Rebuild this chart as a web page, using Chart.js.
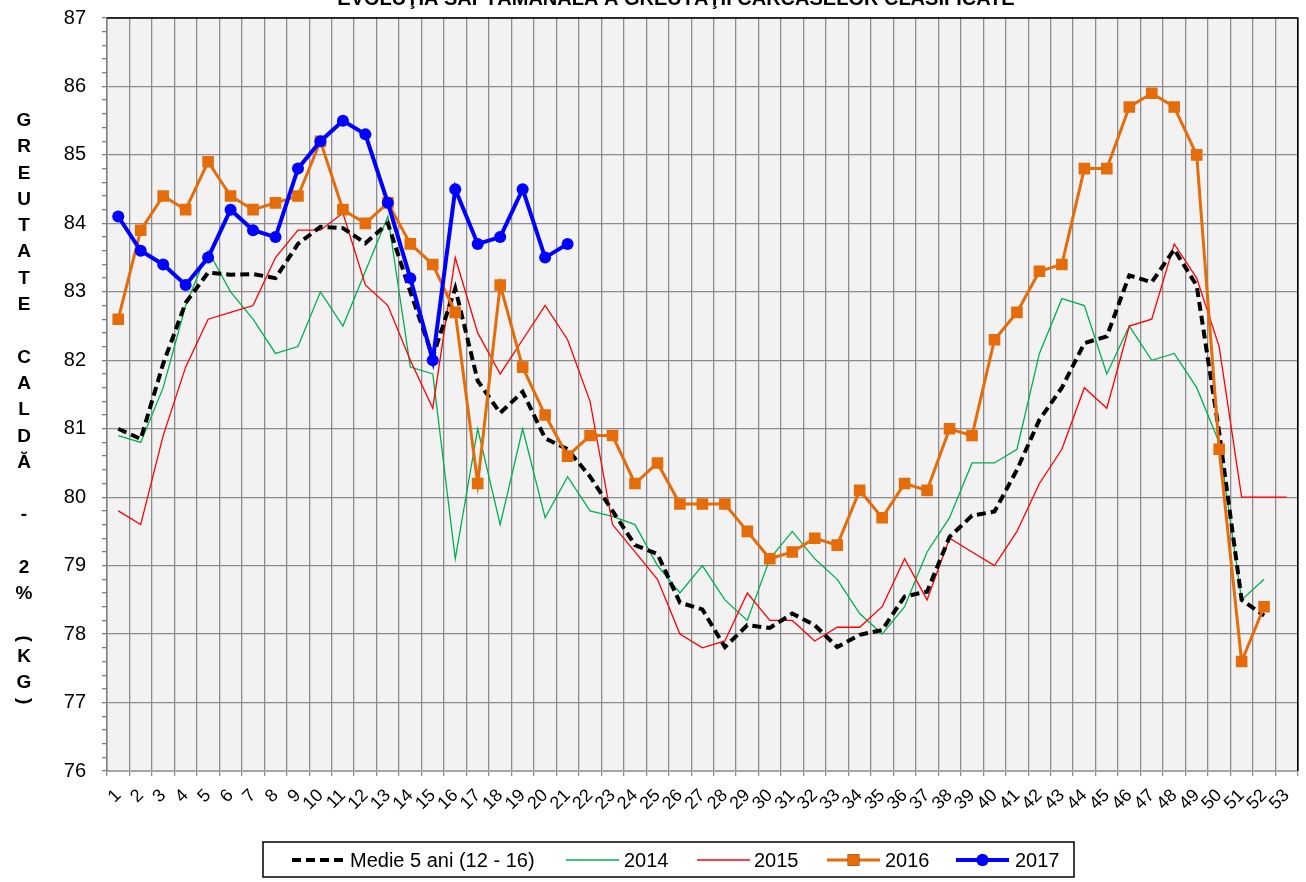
<!DOCTYPE html>
<html lang="ro">
<head>
<meta charset="utf-8">
<title>Evoluţia săptămânală a greutăţii carcaselor clasificate</title>
<script src="https://cdn.jsdelivr.net/npm/chart.js@4.4.1/dist/chart.umd.min.js"></script>
<style>
  html, body { margin: 0; padding: 0; background: #ffffff; }
  #grafica { display: block; }
</style>
</head>
<body>
<canvas id="grafica" width="1306" height="882"></canvas>
<script>
// --- DATOS ---
const semanas = ['1', '2', '3', '4', '5', '6', '7', '8', '9', '10', '11', '12', '13', '14', '15', '16', '17', '18',
    '19', '20', '21', '22', '23', '24', '25', '26', '27', '28', '29', '30', '31', '32', '33', '34', '35', '36',
    '37', '38', '39', '40', '41', '42', '43', '44', '45', '46', '47', '48', '49', '50', '51', '52', '53'];

const medie5ani = [81.0, 80.85, 81.95, 82.84, 83.28, 83.25, 83.26, 83.2, 83.7, 83.95, 83.93, 83.71, 84.0,
    83.0, 82.05, 83.05, 81.7, 81.23, 81.54, 80.86, 80.7, 80.3, 79.8, 79.3, 79.17, 78.46, 78.36, 77.81,
    78.13, 78.09, 78.3, 78.13, 77.81, 77.99, 78.06, 78.55, 78.62, 79.42, 79.73, 79.79, 80.4, 81.13, 81.6,
    82.25, 82.35, 83.24, 83.14, 83.62, 83.09, 80.95, 78.5, 78.27, null];

const an2014 = [80.9, 80.8, 81.6, 82.8, 83.6, 83.0, 82.6, 82.1, 82.2, 83.0, 82.5, 83.3, 84.1, 81.9, 81.8,
    79.1, 81.0, 79.6, 81.0, 79.7, 80.3, 79.8, 79.72, 79.6, 79.0, 78.6, 79.0, 78.5, 78.2, 79.1, 79.5, 79.1,
    78.8, 78.3, 78.0, 78.4, 79.2, 79.7, 80.5, 80.5, 80.7, 82.1, 82.9, 82.8, 81.8, 82.5, 82.0, 82.1, 81.6,
    80.8, 78.5, 78.8, null];

const an2015 = [79.8, 79.6, 80.9, 81.9, 82.6, 82.7, 82.8, 83.5, 83.9, 83.9, 84.15, 83.1, 82.8, 82.0, 81.3,
    83.5, 82.4, 81.8, 82.3, 82.8, 82.3, 81.4, 79.6, 79.2, 78.8, 78.0, 77.8, 77.9, 78.6, 78.2, 78.2, 77.9,
    78.1, 78.1, 78.4, 79.1, 78.5, 79.4, 79.2, 79.0, 79.5, 80.2, 80.7, 81.6, 81.3, 82.5, 82.6, 83.7, 83.2,
    82.2, 80.0, 80.0, 80.0];

const an2016 = [82.6, 83.9, 84.4, 84.2, 84.9, 84.4, 84.2, 84.3, 84.4, 85.2, 84.2, 84.0, 84.3, 83.7, 83.4,
    82.7, 80.2, 83.1, 81.9, 81.2, 80.6, 80.9, 80.9, 80.2, 80.5, 79.9, 79.9, 79.9, 79.5, 79.1, 79.2, 79.4,
    79.3, 80.1, 79.7, 80.2, 80.1, 81.0, 80.9, 82.3, 82.7, 83.3, 83.4, 84.8, 84.8, 85.7, 85.9, 85.7, 85.0,
    80.7, 77.6, 78.4, null];

const an2017 = [84.1, 83.6, 83.4, 83.1, 83.5, 84.2, 83.9, 83.8, 84.8, 85.2, 85.5, 85.3, 84.3, 83.2, 82.0,
    84.5, 83.7, 83.8, 84.5, 83.5, 83.7];

const tituloGrafica = 'EVOLUŢIA SĂPTĂMÂNALĂ A GREUTĂŢII CARCASELOR CLASIFICATE';
const tituloEjeY = 'GREUTATE CALDĂ - 2% (KG)';
const ejeYMin = 76;
const ejeYMax = 87;
const pasoY = 0.2;

const fuente = "'Liberation Sans', Arial, sans-serif";
const colorRejilla = '#8c8c8c';

function esEntero(v) {
    return Math.abs(v - Math.round(v)) < 0.001;
}

// --- SERIES ---
const series = [
    { label: 'Medie 5 ani (12 - 16)', data: medie5ani, borderColor: '#000000', backgroundColor: '#000000',
      borderWidth: 4, borderDash: [9, 5], pointRadius: 0, order: 2 },
    { label: '2014', data: an2014, borderColor: '#00b050', backgroundColor: '#00b050',
      borderWidth: 1.3, pointRadius: 0, order: 4 },
    { label: '2015', data: an2015, borderColor: '#ff0000', backgroundColor: '#ff0000',
      borderWidth: 1.3, pointRadius: 0, order: 3 },
    { label: '2016', data: an2016, borderColor: '#e46c0a', backgroundColor: '#e46c0a',
      borderWidth: 3, pointStyle: 'rect', pointRadius: 8.2, pointBorderWidth: 0, order: 1 },
    { label: '2017', data: an2017, borderColor: '#0000ff', backgroundColor: '#0000ff',
      borderWidth: 4, pointStyle: 'circle', pointRadius: 6, pointBorderWidth: 0, order: 0 }
];
series.forEach(s => { s.fill = false; s.tension = 0; s.pointHoverRadius = s.pointRadius; });

// --- PLUGINS DE DIBUJO ---
const fondoArea = {
    id: 'fondoArea',
    beforeDraw(chart) {
        const { ctx, chartArea: a } = chart;
        ctx.save();
        ctx.fillStyle = '#f2f2f2';
        ctx.fillRect(a.left, a.top, a.right - a.left, a.bottom - a.top);
        ctx.restore();
    },
    afterDatasetsDraw(chart) {
        // borde superior y derecho del area
        const { ctx, chartArea: a } = chart;
        ctx.save();
        ctx.strokeStyle = '#000000';
        ctx.lineWidth = 1.6;
        ctx.beginPath();
        ctx.moveTo(a.left, a.top);
        ctx.lineTo(a.right, a.top);
        ctx.lineTo(a.right, a.bottom);
        ctx.stroke();
        ctx.restore();
    }
};

const titulos = {
    id: 'titulos',
    afterDraw(chart) {
        const ctx = chart.ctx;
        ctx.save();
        ctx.fillStyle = '#000000';
        // titulo cortado arriba
        ctx.font = 'bold 20px ' + fuente;
        ctx.textAlign = 'center';
        ctx.textBaseline = 'alphabetic';
        ctx.fillText(tituloGrafica, 676, 5);

        // titulo del eje Y, letras apiladas
        ctx.font = 'bold 19px ' + fuente;
        ctx.textBaseline = 'middle';
        let y = 120.7;
        let mitadAnterior = 0;
        for (const ch of tituloEjeY) {
            const esParen = ch === '(' || ch === ')';
            const mitad = esParen ? 5 : 13.15;
            if (mitadAnterior) y += mitadAnterior + mitad;
            mitadAnterior = mitad;
            if (ch === ' ') continue;
            if (esParen) {
                ctx.save();
                ctx.translate(24, y);
                ctx.rotate(Math.PI / 2);
                ctx.fillText(ch, 0, 0);
                ctx.restore();
            } else {
                ctx.fillText(ch, 24, y);
            }
        }
        ctx.restore();
    }
};

const leyenda = {
    id: 'leyendaCaja',
    afterDraw(chart) {
        const ctx = chart.ctx;
        const inicios = [292, 566, 697, 827, 956];
        const textos = [350, 624, 754, 885, 1015];
        const yc = 860;
        ctx.save();
        ctx.fillStyle = '#ffffff';
        ctx.fillRect(263, 842, 811, 35);
        ctx.strokeStyle = '#000000';
        ctx.lineWidth = 1.5;
        ctx.strokeRect(263, 842, 811, 35);

        chart.data.datasets.forEach((ds, i) => {
            const x0 = inicios[i];
            const x1 = x0 + 53;
            ctx.save();
            ctx.strokeStyle = ds.borderColor;
            ctx.lineWidth = ds.borderWidth;
            ctx.setLineDash(ds.borderDash || []);
            ctx.beginPath();
            ctx.moveTo(x0, yc);
            ctx.lineTo(x1, yc);
            ctx.stroke();
            ctx.restore();
            if (ds.pointRadius > 0) {
                Chart.helpers.drawPoint(ctx, {
                    pointStyle: ds.pointStyle,
                    radius: ds.pointRadius,
                    borderWidth: 0
                }, (x0 + x1) / 2, yc);
                ctx.fillStyle = ds.backgroundColor;
                ctx.fill();
            }
            ctx.fillStyle = '#000000';
            ctx.font = '20px ' + fuente;
            ctx.textAlign = 'left';
            ctx.textBaseline = 'middle';
            ctx.fillText(ds.label, textos[i], yc + 1);
        });
        ctx.restore();
    }
};

// --- GRAFICA ---
Chart.defaults.font.family = fuente;

const grafica = new Chart(document.getElementById('grafica').getContext('2d'), {
    type: 'line',
    data: { labels: semanas, datasets: series },
    options: {
        responsive: false,
        animation: false,
        layout: { padding: { top: 18, right: 6, bottom: 0, left: 0 } },
        plugins: {
            legend: { display: false },
            title: { display: false },
            tooltip: { enabled: false }
        },
        scales: {
            x: {
                offset: true,
                grid: { offset: true, color: colorRejilla, lineWidth: 1.3, tickLength: 5, tickColor: colorRejilla },
                border: { color: '#a6a6a6', width: 2 },
                ticks: {
                    autoSkip: false, minRotation: 45, maxRotation: 45, padding: 9,
                    color: '#000000', font: { size: 18 }
                },
                afterFit(scale) {
                    scale.height = 111;
                    scale.paddingLeft = 0;
                    scale.paddingRight = 0;
                }
            },
            y: {
                min: ejeYMin,
                max: ejeYMax,
                grid: {
                    color: c => esEntero(c.tick.value) ? colorRejilla : 'rgba(0,0,0,0)',
                    lineWidth: 1.3, tickLength: 5, tickColor: '#7f7f7f'
                },
                border: { color: '#7f7f7f', width: 1.5 },
                ticks: {
                    stepSize: pasoY, autoSkip: false, padding: 16,
                    color: '#000000', font: { size: 20 },
                    callback: v => esEntero(v) ? String(Math.round(v)) : ''
                },
                afterFit(scale) {
                    scale.width = 107;
                    scale.paddingTop = 0;
                    scale.paddingBottom = 0;
                }
            }
        }
    },
    plugins: [fondoArea, titulos, leyenda]
});
</script>
</body>
</html>
